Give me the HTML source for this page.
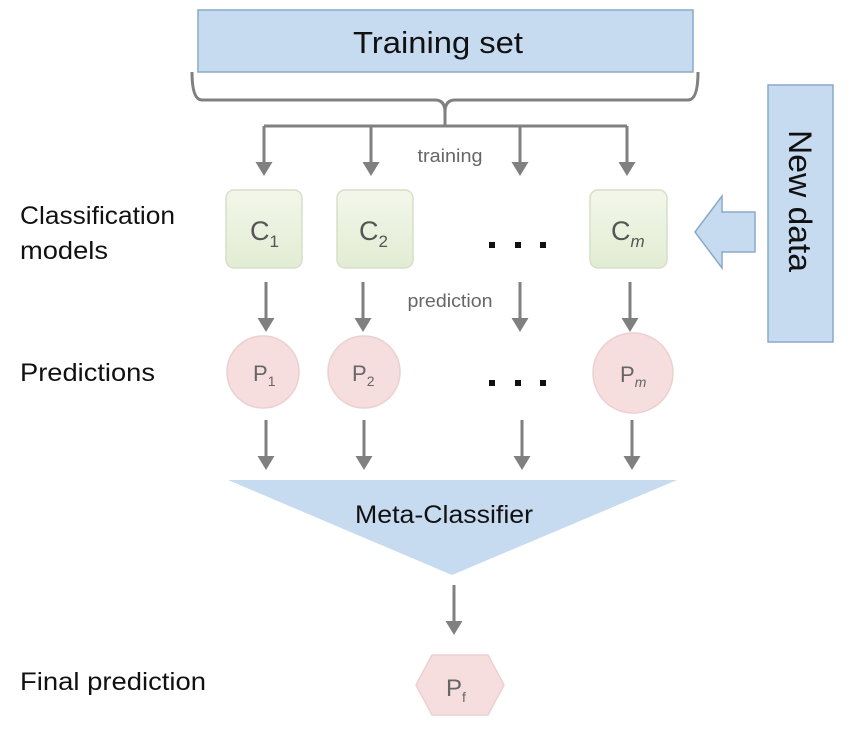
<!DOCTYPE html>
<html><head><meta charset="utf-8"><style>
body{margin:0;background:#fff;}
svg{display:block;font-family:"Liberation Sans",sans-serif;}
</style></head><body>
<svg width="856" height="729" viewBox="0 0 856 729">
<defs>
<linearGradient id="g" x1="0" y1="0" x2="0" y2="1"><stop offset="0" stop-color="#f3f7ea"/><stop offset="1" stop-color="#e2ecd3"/></linearGradient>
</defs>
<rect x="198" y="10" width="495" height="62" fill="#c6daf0" stroke="#8aa9c8" stroke-width="1.5"/>
<text x="438" y="53" font-size="31" text-anchor="middle" fill="#111" textLength="170" lengthAdjust="spacingAndGlyphs">Training set</text>
<path d="M192,72 q0,28 10,28 H435 q10,0 10,12 q0,-12 10,-12 H688 q10,0 10,-28" fill="none" stroke="#808080" stroke-width="3"/>
<g stroke="#808080" stroke-width="3" fill="none">
<line x1="445" y1="108" x2="445" y2="126"/>
<line x1="264" y1="126" x2="627" y2="126"/>
</g>
<g fill="#808080">
<path d="M262.5,126 v36 h-7 l8.5,14 l8.5,-14 h-7 v-36z"/>
<path d="M369.5,126 v36 h-7 l8.5,14 l8.5,-14 h-7 v-36z"/>
<path d="M518.5,126 v36 h-7 l8.5,14 l8.5,-14 h-7 v-36z"/>
<path d="M625.5,126 v36 h-7 l8.5,14 l8.5,-14 h-7 v-36z"/>
<path d="M264.5,282 v36 h-7 l8.5,14 l8.5,-14 h-7 v-36z"/>
<path d="M361.5,282 v36 h-7 l8.5,14 l8.5,-14 h-7 v-36z"/>
<path d="M518.5,282 v36 h-7 l8.5,14 l8.5,-14 h-7 v-36z"/>
<path d="M628.5,282 v36 h-7 l8.5,14 l8.5,-14 h-7 v-36z"/>
<path d="M264.5,420 v36 h-7 l8.5,14 l8.5,-14 h-7 v-36z"/>
<path d="M362.5,420 v36 h-7 l8.5,14 l8.5,-14 h-7 v-36z"/>
<path d="M520.5,420 v36 h-7 l8.5,14 l8.5,-14 h-7 v-36z"/>
<path d="M630.5,420 v36 h-7 l8.5,14 l8.5,-14 h-7 v-36z"/>
<path d="M452.5,585 v36 h-7 l8.5,14 l8.5,-14 h-7 v-36z"/>
</g>
<text x="450" y="162" font-size="18" text-anchor="middle" fill="#666" textLength="65" lengthAdjust="spacingAndGlyphs">training</text>
<text x="450" y="307" font-size="18" text-anchor="middle" fill="#666" textLength="85" lengthAdjust="spacingAndGlyphs">prediction</text>
<g fill="url(#g)" stroke="#d6dfc8" stroke-width="1.5">
<rect x="226" y="190" width="76" height="78" rx="8"/>
<rect x="337" y="190" width="76" height="78" rx="8"/>
<rect x="590" y="190" width="77" height="78" rx="8"/>
</g>
<g font-size="27" fill="#555">
<text x="250" y="240">C<tspan font-size="17" dy="7">1</tspan></text>
<text x="359" y="240">C<tspan font-size="17" dy="7">2</tspan></text>
<text x="611" y="240">C<tspan font-size="17" dy="7" font-style="italic">m</tspan></text>
</g>
<g fill="#111">
<rect x="489" y="242" width="6" height="6"/><rect x="515" y="242" width="6" height="6"/><rect x="540" y="242" width="6" height="6"/>
<rect x="489" y="380" width="6" height="6"/><rect x="515" y="380" width="6" height="6"/><rect x="540" y="380" width="6" height="6"/>
</g>
<rect x="768" y="85" width="65" height="257" fill="#c6daf0" stroke="#8aa9c8" stroke-width="1.5"/>
<text transform="translate(789,201) rotate(90)" font-size="32" text-anchor="middle" fill="#111" textLength="142" lengthAdjust="spacingAndGlyphs">New data</text>
<path d="M695,232 L722,196 V212 H755 V252 H722 V268 Z" fill="#c6daf0" stroke="#8aa9c8" stroke-width="1.5"/>
<g fill="#f7dede" stroke="#ecd0d0" stroke-width="1.5">
<circle cx="263" cy="372" r="36"/>
<circle cx="364" cy="372" r="36"/>
<circle cx="633" cy="373" r="40"/>
</g>
<g font-size="22" fill="#666">
<text x="253" y="381">P<tspan font-size="14" dy="5">1</tspan></text>
<text x="352" y="381">P<tspan font-size="14" dy="5">2</tspan></text>
<text x="620" y="382">P<tspan font-size="14" dy="5" font-style="italic">m</tspan></text>
</g>
<path d="M228,480 L677,480 L452,575 Z" fill="#c6daf0"/>
<text x="444" y="523" font-size="25" text-anchor="middle" fill="#111" textLength="178" lengthAdjust="spacingAndGlyphs">Meta-Classifier</text>
<path d="M416,685 L432,655 H488 L504,685 L488,715 H432 Z" fill="#f7dede" stroke="#ecd0d0" stroke-width="1.5"/>
<text x="446" y="696" font-size="24" fill="#666">P<tspan font-size="14" dy="6">f</tspan></text>
<g font-size="25" fill="#111">
<text x="20" y="224" textLength="155" lengthAdjust="spacingAndGlyphs">Classification</text>
<text x="20" y="259" textLength="88" lengthAdjust="spacingAndGlyphs">models</text>
<text x="20" y="381" textLength="135" lengthAdjust="spacingAndGlyphs">Predictions</text>
<text x="20" y="690" textLength="186" lengthAdjust="spacingAndGlyphs">Final prediction</text>
</g>
</svg>
</body></html>
